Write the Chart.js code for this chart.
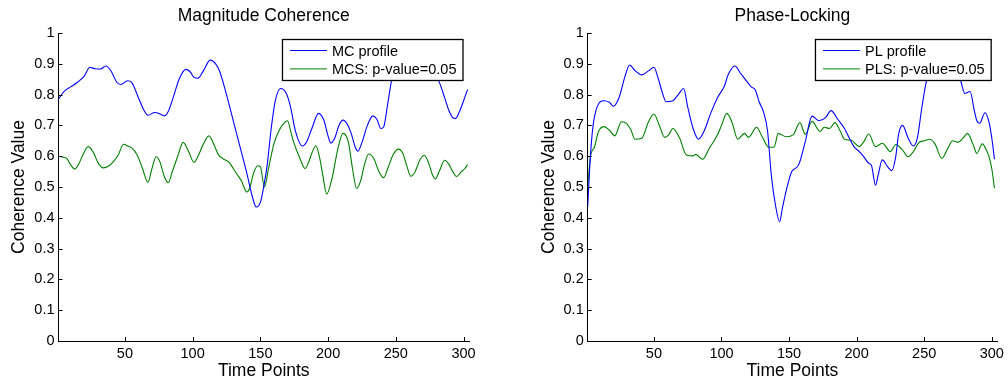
<!DOCTYPE html>
<html>
<head>
<meta charset="utf-8">
<script src="https://cdn.jsdelivr.net/npm/chart.js@4.4.1/dist/chart.umd.min.js"></script>
<style>
  html, body { margin: 0; padding: 0; background: #fff; }
  .box { position: absolute; top: 0; width: 504px; height: 383px; }
</style>
</head>
<body>
<div class="box" style="left:0"><canvas id="mcChart" width="504" height="383"></canvas></div>
<div class="box" style="left:504px"><canvas id="plChart" width="504" height="383"></canvas></div>
<script>
const xTicks = [50, 100, 150, 200, 250, 300];

// Magnitude Coherence - MC profile
const mcX = [1,5,10,15,20,24,28,32,36,40,44,47,52,55,60,64,67,72,76,79,82,86,90,95,98,101,104,108,113,117,120,125,130,135,140,144,147,150,152,155,158,161,165,169,172,176,181,184,188,193,197,200,202,205,208,211,214,217,220,222,225,229,233,236,239,241,244,247,250,255,260,265,270,275,280,283,286,289,292,294,297,300,303];
const mcY = [0.785,0.81,0.825,0.84,0.86,0.888,0.884,0.883,0.893,0.875,0.84,0.833,0.845,0.84,0.79,0.75,0.733,0.742,0.737,0.731,0.745,0.795,0.85,0.882,0.875,0.856,0.853,0.878,0.912,0.90,0.875,0.80,0.715,0.63,0.545,0.47,0.435,0.45,0.49,0.57,0.69,0.78,0.82,0.805,0.765,0.68,0.633,0.645,0.69,0.739,0.715,0.665,0.643,0.66,0.70,0.717,0.705,0.675,0.63,0.616,0.645,0.70,0.731,0.72,0.69,0.695,0.77,0.85,0.90,0.93,0.94,0.93,0.92,0.9,0.86,0.83,0.79,0.75,0.725,0.722,0.745,0.78,0.817];

// MCS: p-value=0.05
const mcsX = [1,4,7,10,13,16,19,23,27,30,34,38,42,45,49,52,55,59,63,67,70,73,76,79,82,85,89,93,97,101,104,108,112,116,119,122,125,127,130,133,136,140,142,145,148,150,153,156,160,164,167,170,173,175,179,183,186,188,191,194,196,199,203,207,211,215,218,221,224,227,230,234,237,241,244,248,252,255,258,261,264,268,271,274,277,279,282,286,289,292,295,298,301,303];
const mcsY = [0.60,0.597,0.593,0.572,0.558,0.575,0.605,0.631,0.61,0.58,0.562,0.568,0.585,0.603,0.639,0.633,0.627,0.605,0.56,0.515,0.56,0.598,0.58,0.535,0.514,0.55,0.60,0.645,0.615,0.58,0.60,0.64,0.666,0.635,0.605,0.593,0.586,0.58,0.56,0.54,0.52,0.484,0.495,0.545,0.569,0.566,0.50,0.56,0.64,0.685,0.705,0.715,0.67,0.64,0.595,0.56,0.585,0.61,0.634,0.59,0.54,0.477,0.53,0.62,0.674,0.645,0.56,0.495,0.52,0.575,0.607,0.59,0.555,0.53,0.56,0.605,0.623,0.61,0.57,0.535,0.548,0.59,0.603,0.58,0.54,0.526,0.55,0.587,0.575,0.55,0.534,0.548,0.56,0.573];

// Phase-Locking - PL profile
const plX = [1,3,5,8,13,17,20,24,29,32,36,41,46,50,53,56,59,64,68,72,75,79,83,87,92,97,102,105,110,114,118,122,125,128,131,134,137,140,143,145,148,152,157,162,167,172,177,181,186,191,195,198,202,205,209,211,214,216,219,223,226,229,231,234,238,242,245,248,251,255,260,265,270,274,277,280,284,287,289,291,295,298,300,302];
const plY = [0.436,0.60,0.70,0.76,0.78,0.775,0.762,0.788,0.865,0.896,0.878,0.864,0.877,0.889,0.855,0.81,0.777,0.78,0.80,0.82,0.76,0.69,0.655,0.68,0.739,0.79,0.826,0.865,0.893,0.87,0.847,0.825,0.815,0.775,0.745,0.685,0.533,0.44,0.387,0.43,0.49,0.55,0.571,0.647,0.73,0.715,0.725,0.748,0.72,0.69,0.655,0.631,0.615,0.60,0.577,0.57,0.506,0.54,0.588,0.565,0.553,0.60,0.67,0.70,0.66,0.633,0.66,0.75,0.83,0.90,0.93,0.94,0.92,0.88,0.845,0.804,0.81,0.75,0.715,0.707,0.741,0.71,0.66,0.59];

// PLS: p-value=0.05
const plsX = [1,3,6,9,13,17,21,26,30,33,36,41,46,50,54,58,61,64,69,74,79,81,86,91,97,100,104,108,112,117,120,126,130,135,139,142,148,153,158,162,167,173,176,180,184,188,191,196,202,205,209,214,219,225,229,234,238,242,246,250,254,258,263,268,271,275,279,282,286,289,293,296,298,300,302];
const plsY = [0.50,0.598,0.63,0.68,0.696,0.685,0.666,0.712,0.705,0.685,0.655,0.658,0.712,0.737,0.70,0.661,0.67,0.69,0.659,0.604,0.601,0.606,0.59,0.626,0.669,0.70,0.739,0.707,0.655,0.674,0.661,0.694,0.664,0.629,0.63,0.674,0.663,0.669,0.709,0.671,0.713,0.68,0.694,0.69,0.709,0.68,0.655,0.652,0.631,0.645,0.672,0.631,0.642,0.615,0.638,0.62,0.598,0.615,0.644,0.65,0.655,0.64,0.593,0.63,0.65,0.645,0.66,0.674,0.64,0.609,0.64,0.62,0.598,0.56,0.496];

const FONT = "'Liberation Sans', Arial, sans-serif";

function pts(xs, ys) {
  return xs.map((x, i) => ({ x: x, y: ys[i] }));
}

// matlab style tick marks pointing into the axes
const inwardTicks = {
  id: 'inwardTicks',
  afterDraw(chart) {
    const { ctx, chartArea, scales } = chart;
    ctx.save();
    ctx.strokeStyle = '#000';
    ctx.lineWidth = 1;
    ctx.beginPath();
    scales.x.ticks.forEach(t => {
      const px = Math.round(scales.x.getPixelForValue(t.value)) + 0.5;
      ctx.moveTo(px, chartArea.bottom);
      ctx.lineTo(px, chartArea.bottom - 4);
    });
    scales.y.ticks.forEach(t => {
      const py = Math.round(scales.y.getPixelForValue(t.value)) + 0.5;
      ctx.moveTo(chartArea.left, py);
      ctx.lineTo(chartArea.left + 4, py);
    });
    ctx.stroke();
    ctx.restore();
  }
};

// boxed legend inside the top right corner
const boxLegend = {
  id: 'boxLegend',
  afterDatasetsDraw(chart) {
    const { ctx, chartArea } = chart;
    const sets = chart.data.datasets;
    ctx.save();
    ctx.font = '14.5px ' + FONT;
    const textW = Math.max(...sets.map(d => ctx.measureText(d.label).width));
    const w = 7.5 + 37 + 5 + textW + 6.5;
    const right = chartArea.right - 6;
    const left = right - w;
    const top = chartArea.top + 6.5;
    const h = 41;
    ctx.fillStyle = '#fff';
    ctx.fillRect(left, top, w, h);
    ctx.strokeStyle = '#000';
    ctx.lineWidth = 1.3;
    ctx.strokeRect(left, top, w, h);
    sets.forEach((d, i) => {
      const y = top + 11 + i * 18.4;
      ctx.strokeStyle = d.borderColor;
      ctx.lineWidth = 1;
      ctx.beginPath();
      ctx.moveTo(left + 7.5, y);
      ctx.lineTo(left + 44.5, y);
      ctx.stroke();
      ctx.fillStyle = '#000';
      ctx.textBaseline = 'middle';
      ctx.fillText(d.label, left + 49.5, y + 1);
    });
    ctx.restore();
  }
};

function makeChart(id, title, padLeft, padRight, sets) {
  return new Chart(document.getElementById(id), {
    type: 'line',
    data: {
      datasets: sets.map(s => ({
        label: s.label,
        data: s.data,
        borderColor: s.color,
        borderWidth: 1.1,
        pointRadius: 0,
        fill: false,
        cubicInterpolationMode: 'monotone'
      }))
    },
    options: {
      responsive: false,
      animation: false,
      devicePixelRatio: 1,
      layout: { padding: { left: padLeft, right: padRight, top: 0, bottom: 0 } },
      plugins: {
        legend: { display: false },
        tooltip: { enabled: false },
        title: {
          display: true,
          text: title,
          fullSize: false,
          color: '#000',
          font: { family: FONT, size: 17.5, weight: 'normal' },
          padding: { top: 6, bottom: 6 }
        }
      },
      scales: {
        x: {
          type: 'linear',
          min: 1,
          max: 304,
          afterBuildTicks: s => { s.ticks = xTicks.map(v => ({ value: v })); },
          afterFit: s => { s.height = 42; },
          grid: { display: false, drawTicks: false },
          border: { display: true, color: '#000', width: 1 },
          ticks: { color: '#000', font: { family: FONT, size: 14.5 }, padding: 4, maxRotation: 0, autoSkip: false },
          title: { display: true, text: 'Time Points', color: '#000', font: { family: FONT, size: 17.5 }, padding: { top: 0, bottom: 1 } }
        },
        y: {
          min: 0,
          max: 1,
          afterFit: s => { s.width = 58.5; },
          grid: { display: false, drawTicks: false },
          border: { display: true, color: '#000', width: 1 },
          ticks: {
            stepSize: 0.1,
            color: '#000',
            font: { family: FONT, size: 14.5 },
            padding: 4,
            callback: v => String(Number(v.toFixed(1)))
          },
          title: { display: true, text: 'Coherence Value', color: '#000', font: { family: FONT, size: 17.5 }, padding: { top: 9, bottom: 0 } }
        }
      }
    },
    plugins: [inwardTicks, boxLegend]
  });
}

makeChart('mcChart', 'Magnitude Coherence', 0, 35, [
  { label: 'MC profile', data: pts(mcX, mcY), color: '#0000ff' },
  { label: 'MCS: p-value=0.05', data: pts(mcsX, mcsY), color: '#008000' }
]);

makeChart('plChart', 'Phase-Locking', 25.2, 9.7, [
  { label: 'PL profile', data: pts(plX, plY), color: '#0000ff' },
  { label: 'PLS: p-value=0.05', data: pts(plsX, plsY), color: '#008000' }
]);
</script>
</body>
</html>
